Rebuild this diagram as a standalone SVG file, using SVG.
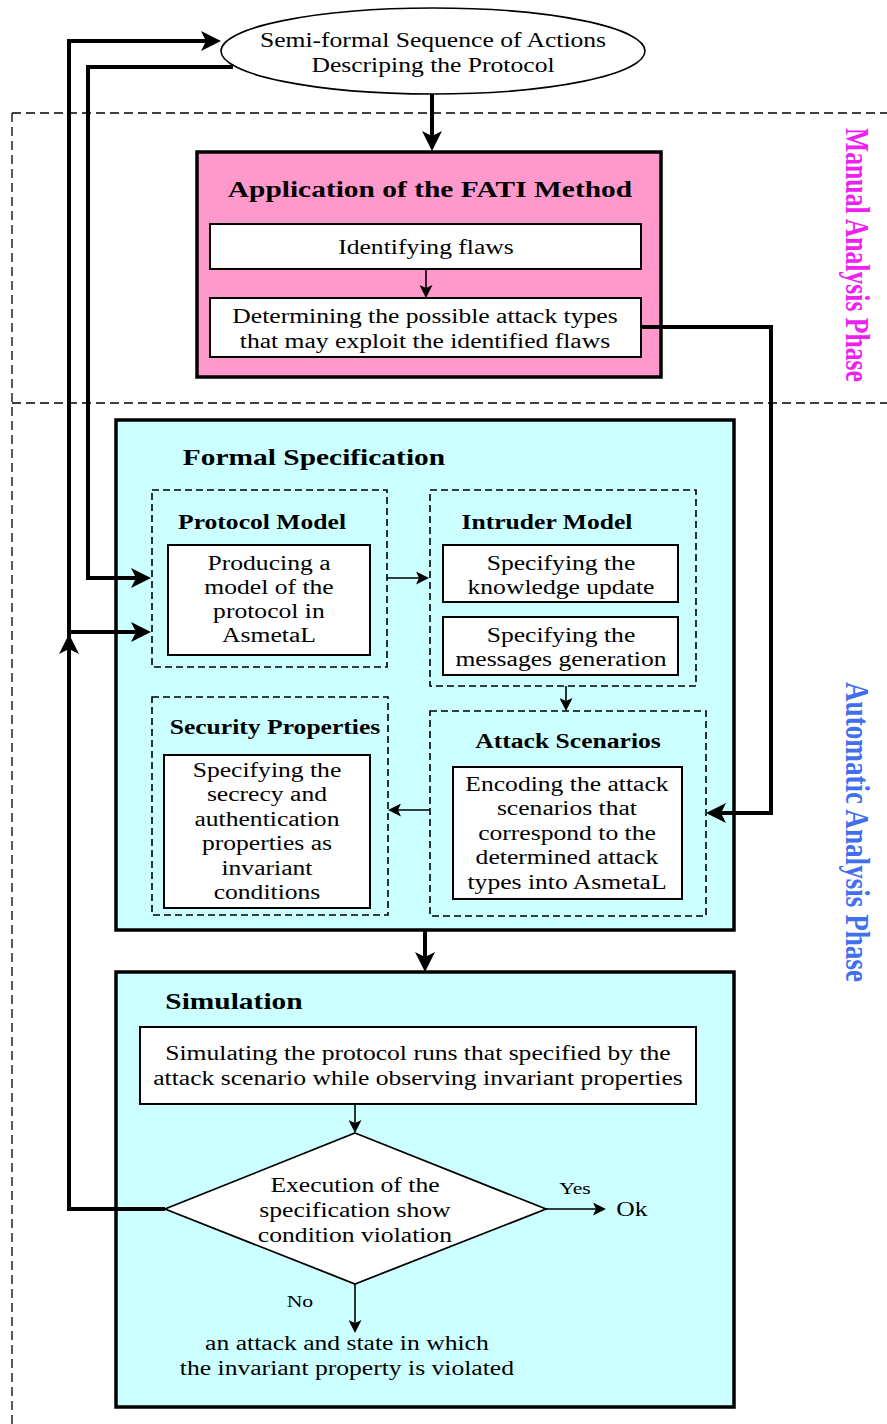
<svg xmlns="http://www.w3.org/2000/svg" width="887" height="1424" viewBox="0 0 887 1424">
  <style>
    .t { font-family: "Liberation Serif", "Times New Roman", serif; font-size: 20px; fill: #000; text-anchor: middle; transform-box: fill-box; transform-origin: center; transform: scaleX(1.28); }
    .h1 { font-family: "Liberation Serif", "Times New Roman", serif; font-size: 23px; font-weight: bold; fill: #000; text-anchor: middle; transform-box: fill-box; transform-origin: center; transform: scaleX(1.28); }
    .h2 { font-family: "Liberation Serif", "Times New Roman", serif; font-size: 20px; font-weight: bold; fill: #000; text-anchor: middle; transform-box: fill-box; transform-origin: center; transform: scaleX(1.28); }
    .sm { font-family: "Liberation Serif", "Times New Roman", serif; font-size: 17px; fill: #000; text-anchor: middle; transform-box: fill-box; transform-origin: center; transform: scaleX(1.28); }
    .phase { font-family: "Liberation Serif", "Times New Roman", serif; font-size: 26px; font-weight: bold; text-anchor: middle; }
    .sep { fill: none; stroke: #000; stroke-width: 1.3; stroke-dasharray: 9 5; }
    .main { stroke: #000; stroke-width: 3.5; }
    .inner { fill: #fff; stroke: #000; stroke-width: 2; }
    .dash { fill: none; stroke: #000; stroke-width: 1.6; stroke-dasharray: 7 4; }
    .thick { fill: none; stroke: #000; stroke-width: 4; marker-end: url(#big); }
    .thin { fill: none; stroke: #000; stroke-width: 1.6; marker-end: url(#small); }
  </style>
  <defs>
    <marker id="big" viewBox="0 0 20 20" refX="12" refY="10" markerWidth="20" markerHeight="20" orient="auto" markerUnits="userSpaceOnUse">
      <path d="M0,0 L20,10 L0,20 L5,10 z" fill="#000"/>
    </marker>
    <marker id="small" viewBox="0 0 13 13" refX="9" refY="6.5" markerWidth="13" markerHeight="13" orient="auto" markerUnits="userSpaceOnUse">
      <path d="M0,0 L13,6.5 L0,13 L3,6.5 z" fill="#000"/>
    </marker>
  </defs>

  <rect width="887" height="1424" fill="#fff"/>

  <!-- phase separators -->
  <g id="phases">
    <path class="sep" d="M12,113 H887"/>
    <path class="sep" d="M12,403 H887"/>
    <path class="sep" d="M12,113 V1424"/>
    <text class="phase" fill="#F020F0" textLength="254" lengthAdjust="spacingAndGlyphs" transform="translate(846,255) rotate(90) scale(1,1.28)">Manual Analysis Phase</text>
    <text class="phase" fill="#4070F0" textLength="300" lengthAdjust="spacingAndGlyphs" transform="translate(846,832) rotate(90) scale(1,1.28)">Automatic Analysis Phase</text>
  </g>

  <!-- protocol description -->
  <g id="sequence">
    <ellipse cx="433" cy="51" rx="212" ry="43" fill="#fff" stroke="#000" stroke-width="1.6"/>
    <text class="t" x="433" y="47">Semi-formal Sequence of Actions</text>
    <text class="t" x="433" y="72">Descriping the Protocol</text>
  </g>

  <!-- FATI method -->
  <g id="fati">
    <rect class="main" x="197" y="152" width="464" height="225" fill="#FF99CC"/>
    <text class="h1" x="430" y="197">Application of the FATI Method</text>
  </g>
  <g id="flaws">
    <rect class="inner" x="210" y="224" width="431" height="45"/>
    <text class="t" x="426" y="254">Identifying flaws</text>
  </g>
  <g id="attack-types">
    <rect class="inner" x="210" y="298" width="431" height="59"/>
    <text class="t" x="425" y="323">Determining the possible attack types</text>
    <text class="t" x="425" y="348">that may exploit the identified flaws</text>
  </g>

  <!-- formal specification -->
  <g id="formal-spec">
    <rect class="main" x="116" y="420" width="618" height="510" fill="#CCFFFF"/>
    <text class="h1" x="314" y="465">Formal Specification</text>
  </g>
  <g id="protocol-model">
    <rect class="dash" x="152" y="490" width="235" height="177"/>
    <text class="h2" x="262" y="529">Protocol Model</text>
    <rect class="inner" x="168" y="545" width="202" height="110"/>
    <text class="t" x="269" y="570">Producing a</text>
    <text class="t" x="269" y="594">model of the</text>
    <text class="t" x="269" y="618">protocol in</text>
    <text class="t" x="269" y="642">AsmetaL</text>
  </g>
  <g id="intruder-model">
    <rect class="dash" x="430" y="490" width="266" height="196"/>
    <text class="h2" x="547" y="529">Intruder Model</text>
    <rect class="inner" x="443" y="545" width="235" height="57"/>
    <text class="t" x="561" y="570">Specifying the</text>
    <text class="t" x="561" y="594">knowledge update</text>
    <rect class="inner" x="443" y="617" width="235" height="58"/>
    <text class="t" x="561" y="642">Specifying the</text>
    <text class="t" x="561" y="666">messages generation</text>
  </g>
  <g id="security-properties">
    <rect class="dash" x="152" y="697" width="236" height="218"/>
    <text class="h2" x="275" y="734">Security Properties</text>
    <rect class="inner" x="164" y="755" width="206" height="153"/>
    <text class="t" x="267" y="777">Specifying the</text>
    <text class="t" x="267" y="801">secrecy and</text>
    <text class="t" x="267" y="826">authentication</text>
    <text class="t" x="267" y="850">properties as</text>
    <text class="t" x="267" y="875">invariant</text>
    <text class="t" x="267" y="899">conditions</text>
  </g>
  <g id="attack-scenarios">
    <rect class="dash" x="430" y="711" width="276" height="205"/>
    <text class="h2" x="568" y="748">Attack Scenarios</text>
    <rect class="inner" x="453" y="767" width="229" height="132"/>
    <text class="t" x="567" y="791">Encoding the attack</text>
    <text class="t" x="567" y="815">scenarios that</text>
    <text class="t" x="567" y="840">correspond to the</text>
    <text class="t" x="567" y="864">determined attack</text>
    <text class="t" x="567" y="889">types into AsmetaL</text>
  </g>

  <!-- simulation -->
  <g id="simulation">
    <rect class="main" x="116" y="972" width="618" height="435" fill="#CCFFFF"/>
    <text class="h1" x="234" y="1009">Simulation</text>
  </g>
  <g id="simulate-runs">
    <rect class="inner" x="140" y="1027" width="556" height="77"/>
    <text class="t" x="418" y="1060">Simulating the protocol runs that specified by the</text>
    <text class="t" x="418" y="1085">attack scenario while observing invariant properties</text>
  </g>
  <g id="decision">
    <polygon points="355,1133 546,1209 355,1284 165,1209" fill="#fff" stroke="#000" stroke-width="1.8"/>
    <text class="t" x="355" y="1192">Execution of the</text>
    <text class="t" x="355" y="1217">specification show</text>
    <text class="t" x="355" y="1242">condition violation</text>
  </g>
  <g id="ok">
    <text class="t" x="632" y="1216">Ok</text>
  </g>
  <g id="violation">
    <text class="t" x="347" y="1350">an attack and state in which</text>
    <text class="t" x="347" y="1375">the invariant property is violated</text>
  </g>

  <!-- connectors -->
  <g id="connectors">
    <path class="thick" d="M432,94 V143"/>
    <path class="thick" d="M425,930 V964"/>
    <path class="thick" d="M641,327 H771 V813 H714"/>
    <path class="thick" d="M233,67 H88 V578 H143"/>
    <path class="thick" d="M165,1209 H69 V642"/>
    <path class="thick" d="M69,640 V41 H213"/>
    <path class="thick" d="M69,632 H143"/>
    <path class="thin" d="M426,269 V294"/>
    <path class="thin" d="M387,578 H425"/>
    <path class="thin" d="M566,686 V707"/>
    <path class="thin" d="M430,810 H392"/>
    <path class="thin" d="M355,1104 V1129"/>
    <path class="thin" d="M546,1209 H602"/>
    <path class="thin" d="M355,1284 V1329"/>
    <text class="sm" x="575" y="1194">Yes</text>
    <text class="sm" x="300" y="1307">No</text>
  </g>
</svg>
